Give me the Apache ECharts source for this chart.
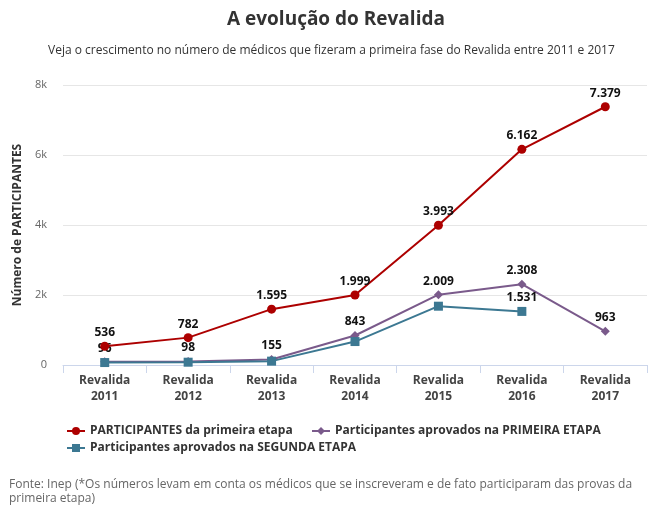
<!DOCTYPE html>
<html>
<head>
<meta charset="utf-8">
<script src="https://cdn.jsdelivr.net/npm/echarts@6.0.0/dist/echarts.min.js"></script>
<style>
  html, body { margin: 0; padding: 0; background: #fff; }
  #chart { width: 649px; height: 516px; }
</style>
</head>
<body>
<div id="chart"></div>
<script>
// dados do gráfico
const anos = ['Revalida\n2011', 'Revalida\n2012', 'Revalida\n2013', 'Revalida\n2014', 'Revalida\n2015', 'Revalida\n2016', 'Revalida\n2017'];
const participantes = [536, 782, 1595, 1999, 3993, 6162, 7379];
const aprovadosPrimeira = [96, 98, 155, 843, 2009, 2308, 963];
const aprovadosSegunda = [70, 80, 110, 670, 1680, 1531, null];
const rotulosSegunda = [5]; // só o ponto de 2016 aparece com rótulo
const yTicks = [0, 2000, 4000, 6000, 8000];

const nomes = [
  'PARTICIPANTES da primeira etapa',
  'Participantes aprovados na PRIMEIRA ETAPA',
  'Participantes aprovados na SEGUNDA ETAPA'
];
const cores = ['#ad0000', '#7a5a8b', '#3c7892'];
const FONT = '"Open Sans", "Noto Sans", sans-serif';

const fmt = v => String(v).replace(/\B(?=(\d{3})+(?!\d))/g, '.');

const chart = echarts.init(document.getElementById('chart'));

const labelBase = {
  show: true, position: 'top', distance: 3,
  fontFamily: FONT, fontWeight: 'bold', fontSize: 12, color: '#111',
  formatter: p => fmt(p.value)
};

chart.setOption({
  backgroundColor: '#fff',
  animation: false,
  textStyle: { fontFamily: FONT },
  title: [
    {
      text: 'A evolução do Revalida', left: 227, top: 10, padding: 0,
      textStyle: { fontFamily: FONT, fontSize: 19, fontWeight: 'bold', color: '#333' }
    },
    {
      text: 'Veja o crescimento no número de médicos que fizeram a primeira fase do Revalida entre 2011 e 2017',
      left: 48, top: 45, padding: 0,
      textStyle: { fontFamily: FONT, fontSize: 12, fontWeight: 'normal', color: '#333' }
    },
    {
      text: 'Fonte: Inep (*Os números levam em conta os médicos que se inscreveram e de fato participaram das provas da\nprimeira etapa)',
      left: 9, top: 478, padding: 0,
      textStyle: { fontFamily: FONT, fontSize: 12, fontWeight: 'normal', color: '#666', lineHeight: 14 }
    }
  ],
  legend: [
    { data: [nomes[0]], left: 61, top: 420 },
    { data: [nomes[1]], left: 306, top: 420 },
    { data: [nomes[2]], left: 61, top: 437 }
  ].map(l => Object.assign(l, {
    itemWidth: 18, itemHeight: 10, itemGap: 20,
    textStyle: { fontFamily: FONT, fontSize: 12, fontWeight: 'bold', color: '#333' }
  })),
  grid: { left: 63, right: 2, top: 85, bottom: 151 },
  xAxis: {
    type: 'category',
    data: anos,
    boundaryGap: true,
    axisLine: { lineStyle: { color: '#ccd6eb' } },
    axisTick: { show: true, length: 8, lineStyle: { color: '#ccd6eb' } },
    axisLabel: {
      fontFamily: FONT, fontSize: 12, fontWeight: 'bold', color: '#444',
      lineHeight: 16, margin: 8
    }
  },
  yAxis: {
    type: 'value',
    min: yTicks[0], max: yTicks[yTicks.length - 1], interval: 2000,
    name: 'Número de PARTICIPANTES',
    nameLocation: 'middle', nameGap: 34, nameRotate: 90,
    nameTextStyle: { fontFamily: FONT, fontSize: 12, fontWeight: 'bold', color: '#333' },
    axisLine: { show: false },
    axisTick: { show: false },
    splitLine: { lineStyle: { color: '#e6e6e6' } },
    axisLabel: {
      fontFamily: FONT, fontSize: 11, color: '#666', margin: 16,
      formatter: v => v === 0 ? '0' : (v / 1000) + 'k'
    }
  },
  series: [
    {
      name: nomes[0], type: 'line', data: participantes,
      color: cores[0], symbol: 'circle', symbolSize: 9,
      lineStyle: { width: 2 }, label: labelBase, z: 3
    },
    {
      name: nomes[1], type: 'line', data: aprovadosPrimeira,
      color: cores[1], symbol: 'diamond', symbolSize: 9,
      lineStyle: { width: 2 }, label: labelBase, z: 2
    },
    {
      name: nomes[2], type: 'line', connectNulls: false,
      data: aprovadosSegunda.map((v, i) => ({
        value: v,
        label: { show: rotulosSegunda.includes(i) }
      })),
      color: cores[2], symbol: 'rect', symbolSize: 9,
      lineStyle: { width: 2 }, label: labelBase, z: 4
    }
  ]
});
</script>
</body>
</html>
